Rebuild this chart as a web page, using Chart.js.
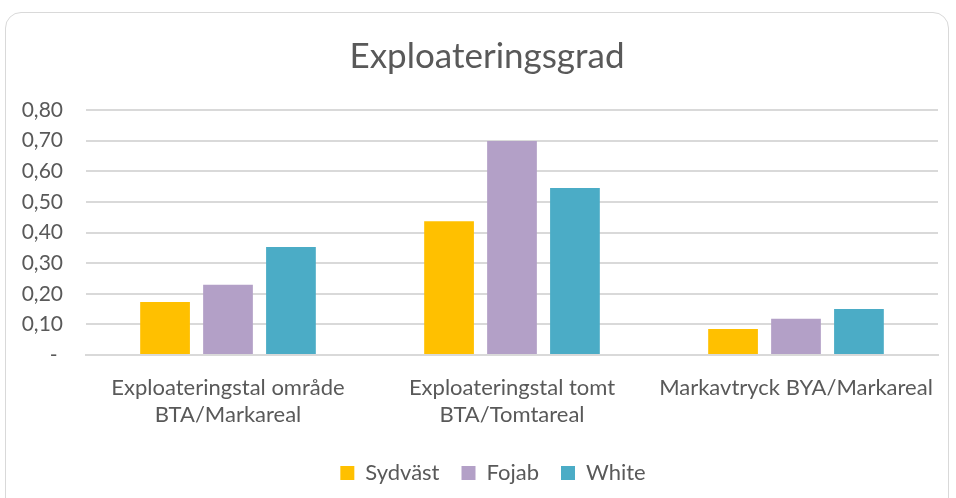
<!DOCTYPE html>
<html>
<head>
<meta charset="utf-8">
<script src="https://cdn.jsdelivr.net/npm/chart.js@4/dist/chart.umd.min.js"></script>
<style>
    html, body { margin: 0; padding: 0; background: #fff; }
    #wrap { position: relative; width: 956px; height: 498px; overflow: hidden; }
    #frame {
        position: absolute; left: 5px; top: 12px; width: 944px; height: 520px;
        border: 1px solid #d9d9d9; border-radius: 16px; box-sizing: border-box;
    }
    #exploChart { position: absolute; left: 0; top: 0; }
</style>
</head>
<body>
<div id="wrap">
    <div id="frame"></div>
    <canvas id="exploChart" width="956" height="498"></canvas>
</div>
<script>
// Data
const categories = [
    ['Exploateringstal område', 'BTA/Markareal'],
    ['Exploateringstal tomt', 'BTA/Tomtareal'],
    'Markavtryck BYA/Markareal',
];
const sydvast = [0.173, 0.437, 0.085];
const fojab = [0.229, 0.699, 0.118];
const white = [0.353, 0.545, 0.15];
const yTicks = [0, 0.1, 0.2, 0.3, 0.4, 0.5, 0.6, 0.7, 0.8];

const textColor = '#595959';
const fontFamily = 'Lato, "Open Sans", sans-serif';

// title and legend sit a bit right of centre in the original
const shiftBlocks = {
    id: 'shiftBlocks',
    afterLayout(chart) {
        if (chart.titleBlock) chart.titleBlock.left += 36;
        if (chart.legend) chart.legend.left += 48;
    },
};

const ctx = document.getElementById('exploChart').getContext('2d');
const exploChart = new Chart(ctx, {
    type: 'bar',
    data: {
        labels: categories,
        datasets: [
            { label: 'Sydväst', data: sydvast, backgroundColor: '#FFC000' },
            { label: 'Fojab', data: fojab, backgroundColor: '#B3A0C7' },
            { label: 'White', data: white, backgroundColor: '#4BACC6' },
        ],
    },
    options: {
        responsive: false,
        animation: false,
        categoryPercentage: 0.665,
        barPercentage: 0.79,
        layout: { padding: { left: 0, right: 18, top: 0, bottom: 4 } },
        plugins: {
            title: {
                display: true,
                text: 'Exploateringsgrad',
                color: textColor,
                font: { family: fontFamily, size: 35, weight: 'normal', lineHeight: 1.2 },
                padding: { top: 36, bottom: 32 },
            },
            legend: {
                position: 'bottom',
                labels: {
                    color: textColor,
                    font: { family: fontFamily, size: 22 },
                    boxWidth: 14,
                    boxHeight: 14,
                    padding: 22,
                },
            },
            tooltip: { enabled: false },
        },
        scales: {
            x: {
                grid: { display: false },
                border: { color: '#d9d9d9', width: 2 },
                afterFit: (scale) => {
                    scale.height = 85;
                },
                ticks: {
                    color: textColor,
                    font: { family: fontFamily, size: 22, lineHeight: 1.2 },
                    maxRotation: 0,
                    padding: 12,
                },
            },
            y: {
                min: 0,
                max: 0.8,
                afterBuildTicks: (scale) => {
                    scale.ticks = yTicks.map((v) => ({ value: v }));
                },
                afterFit: (scale) => {
                    scale.width = 86;
                },
                border: { display: false },
                grid: { color: '#d9d9d9', lineWidth: 2, drawTicks: false },
                ticks: {
                    color: textColor,
                    font: { family: fontFamily, size: 21 },
                    padding: 23,
                    callback: function (value) {
                        return value === 0 ? '- ' : value.toFixed(2).replace('.', ',');
                    },
                },
            },
        },
    },
    plugins: [shiftBlocks],
});
</script>
</body>
</html>
